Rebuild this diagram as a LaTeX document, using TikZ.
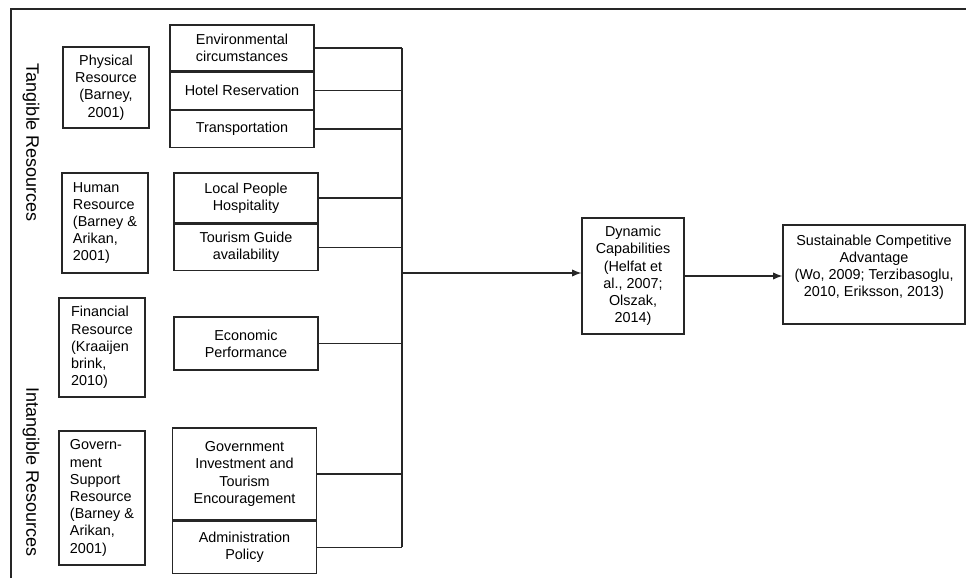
\documentclass[tikz,border=0pt]{standalone}
\usepackage{fontspec}
\setmainfont{Liberation Sans}
\usetikzlibrary{positioning,arrows.meta}

\begin{document}
\begin{tikzpicture}[x=0.75pt,y=-0.75pt,
        every node/.style={font=\fontsize{10.8}{12.9}\selectfont},
        box/.style={draw=black!85, line width=0.9pt, inner sep=2pt},
        item/.style={box, minimum width=108pt, align=center},
        source/.style={box, minimum width=64.5pt, align=left},
        link/.style={draw=black!85, line width=0.9pt},
        tip/.style={-{Latex[length=7pt,width=5.5pt]}},
        side/.style={rotate=-90, font=\fontsize{13.5}{16}\selectfont}]
        \useasboundingbox (0,0) rectangle (966,578);
        \draw[link] (11,578) -- (11,9) -- (966,9);

        \node[side] (tangible) at (31,143) {Tangible Resources};
        \node[side] (intangible) at (31,472) {Intangible Resources};

        % physical resource
        \node[source, align=center, minimum height=60.75pt] (phys) at (106,87.5)
            {Physical\\Resource\\(Barney,\\2001)};
        \node[item, minimum height=34.5pt] (env) at (242,48) {Environmental\\circumstances};
        \node[item, minimum height=27.75pt, below=0pt of env] (hotel) {Hotel Reservation};
        \node[item, minimum height=27.75pt, below=0pt of hotel] (trans) {Transportation};

        % human resource
        \node[source, minimum height=75pt] (human) at (105,223)
            {Human\\Resource\\(Barney \&\\Arikan,\\2001)};
        \node[item, minimum height=37.5pt] (local) at (246,198) {Local People\\Hospitality};
        \node[item, minimum height=34.5pt, below=0pt of local] (guide) {Tourism Guide\\availability};

        % financial resource
        \node[source, minimum height=74.25pt] (fin) at (102,347.5)
            {Financial\\Resource\\(Kraaijen\\brink,\\2010)};
        \node[item, minimum height=39.75pt] (econ) at (246,343.5) {Economic\\Performance};

        % government support resource
        \node[source, minimum height=100.5pt] (gov) at (102,498)
            {Govern-\\ment\\Support\\Resource\\(Barney \&\\Arikan,\\2001)};
        \node[item, minimum height=69pt] (invest) at (244.5,474)
            {Government\\Investment and\\Tourism\\Encouragement};
        \node[item, minimum height=39pt, below=0pt of invest] (admin) {Administration\\Policy};

        % capabilities and advantage
        \coordinate (bus) at (402,273);
        \node[box, align=center, minimum width=76.5pt, minimum height=87pt] (dyn) at (633,276)
            {Dynamic\\Capabilities\\(Helfat et\\al., 2007;\\Olszak,\\2014)};
        \node[box, align=center, minimum width=136.5pt, minimum height=74.25pt] (sca) at (874,274.5)
            {Sustainable Competitive\\Advantage\\(Wo, 2009; Terzibasoglu,\\2010, Eriksson, 2013)\\\mbox{}};

        \draw[link] (env.east) -- (env.east -| bus);
        \draw[link] (hotel.east) -- (hotel.east -| bus);
        \draw[link] (trans.east) -- (trans.east -| bus);
        \draw[link] (local.east) -- (local.east -| bus);
        \draw[link] (guide.east) -- (guide.east -| bus);
        \draw[link] (econ.east) -- (econ.east -| bus);
        \draw[link] (invest.east) -- (invest.east -| bus);
        \draw[link] (admin.east) -- (admin.east -| bus);
        \draw[link] (env.east -| bus) -- (admin.east -| bus);

        \draw[link, tip] (bus) -- (bus -| dyn.west);
        \draw[link, tip] (dyn.east) -- (dyn.east -| sca.west);
\end{tikzpicture}
\end{document}
